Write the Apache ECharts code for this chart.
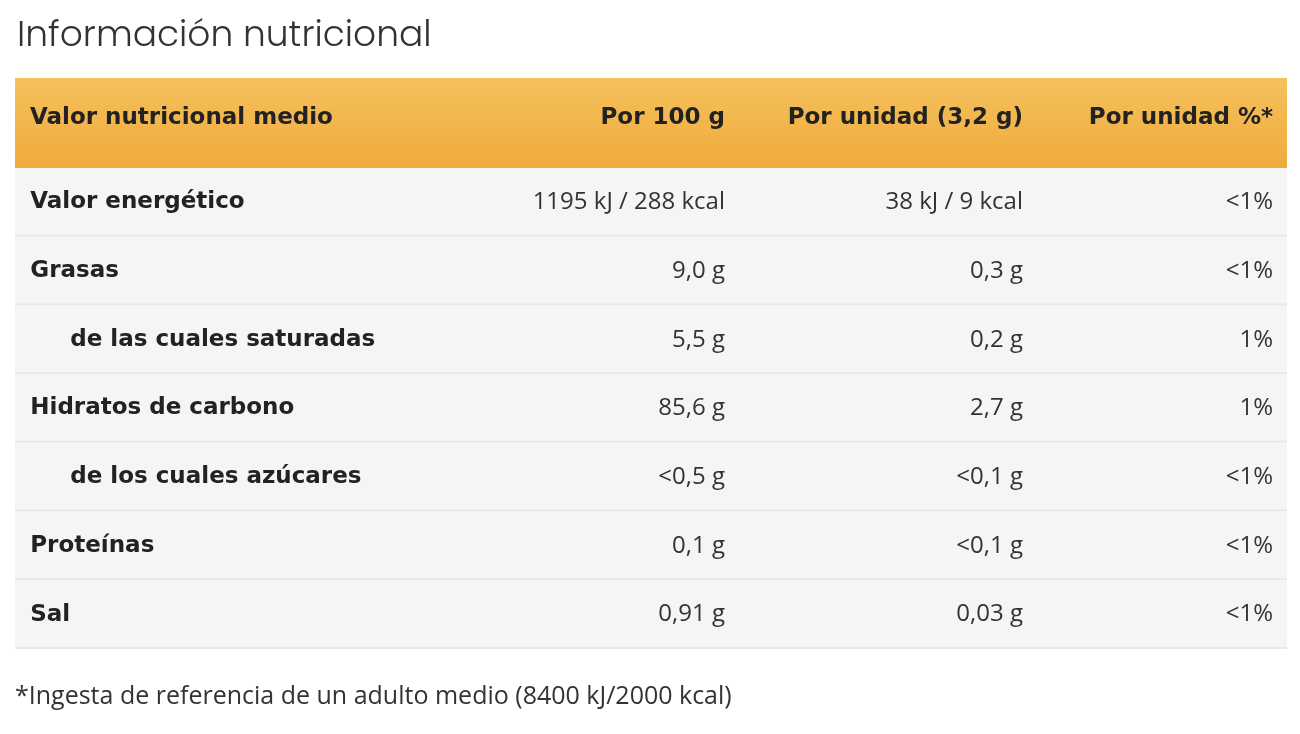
<!DOCTYPE html>
<html><head><meta charset="utf-8">
<script src="https://cdn.jsdelivr.net/npm/echarts@6/dist/echarts.min.js"></script>
<style>html,body{margin:0;padding:0;background:#fff}#c{width:1300px;height:734px}</style>
</head><body><div id="c"></div>
<script>
const headers = ['Valor nutricional medio', 'Por 100 g', 'Por unidad (3,2 g)', 'Por unidad %*'];
const nutrients = ['Valor energético', 'Grasas', 'de las cuales saturadas', 'Hidratos de carbono', 'de los cuales azúcares', 'Proteínas', 'Sal'];
const indent = [0, 0, 1, 0, 1, 0, 0];
const per100 = ['1195 kJ / 288 kcal', '9,0 g', '5,5 g', '85,6 g', '<0,5 g', '0,1 g', '0,91 g'];
const perUnit = ['38 kJ / 9 kcal', '0,3 g', '0,2 g', '2,7 g', '<0,1 g', '<0,1 g', '0,03 g'];
const perUnitPct = ['<1%', '<1%', '1%', '1%', '<1%', '<1%', '<1%'];
const title = 'Información nutricional';
const footnote = '*Ingesta de referencia de un adulto medio (8400 kJ/2000 kcal)';

const chart = echarts.init(document.getElementById('c'));
const boldFont = 'bold 23px "DejaVu Sans", Lato, sans-serif';
const numFont = '400 24px "Open Sans", Roboto, sans-serif';
const colX = [0.012, 0.558, 0.792, 0.988];

chart.setOption({
  animation: false,
  title: {text: title, left: 12, top: 14, textStyle: {fontFamily: 'Poppins, "Open Sans", sans-serif', fontWeight: 300, fontSize: 36, color: '#333'}},
  grid: {left: 15, right: 13, top: 168, bottom: 85},
  xAxis: {type: 'value', min: 0, max: 1, show: false},
  yAxis: {type: 'category', data: nutrients, inverse: true, show: false},
  graphic: [
    {type: 'rect', shape: {x: 15, y: 78, width: 1272, height: 90},
     style: {fill: new echarts.graphic.LinearGradient(0, 0, 0, 1, [{offset: 0, color: '#f5c15c'}, {offset: 1, color: '#f0aa3d'}])}},
    {type: 'text', left: 30, top: 107, style: {text: headers[0], font: boldFont, fill: '#222'}},
    {type: 'text', right: 1300 - 725, top: 107, style: {text: headers[1], font: boldFont, fill: '#222'}},
    {type: 'text', right: 1300 - 1023, top: 107, style: {text: headers[2], font: boldFont, fill: '#222'}},
    {type: 'text', right: 1300 - 1273, top: 107, style: {text: headers[3], font: boldFont, fill: '#222'}},
    {type: 'text', left: 15, top: 684, style: {text: footnote, font: '400 25px "Open Sans", Roboto, sans-serif', fill: '#333'}}
  ],
  series: [{
    type: 'custom',
    data: nutrients.map((n, i) => [i]),
    renderItem: function (params, api) {
      const i = api.value(0);
      const c = api.coord([0, i]);
      const h = api.size([0, 1])[1];
      const r = params.coordSys;
      const top = c[1] - h / 2;
      const mid = c[1];
      const xs = colX.map(f => r.x + f * r.width);
      return {type: 'group', children: [
        {type: 'rect', shape: {x: r.x, y: top, width: r.width, height: h}, style: {fill: '#f5f5f5'}},
        {type: 'rect', shape: {x: r.x, y: top + h - 2, width: r.width, height: 2}, style: {fill: '#e8e8e8'}},
        {type: 'text', style: {x: xs[0] + 0 + indent[i] * 40, y: mid, text: nutrients[i], font: boldFont, fill: '#222', verticalAlign: 'middle'}},
        {type: 'text', style: {x: 725, y: mid, text: per100[i], font: numFont, fill: '#333', align: 'right', verticalAlign: 'middle'}},
        {type: 'text', style: {x: 1023, y: mid, text: perUnit[i], font: numFont, fill: '#333', align: 'right', verticalAlign: 'middle'}},
        {type: 'text', style: {x: 1273, y: mid, text: perUnitPct[i], font: numFont, fill: '#333', align: 'right', verticalAlign: 'middle'}}
      ]};
    }
  }]
});
</script></body></html>
